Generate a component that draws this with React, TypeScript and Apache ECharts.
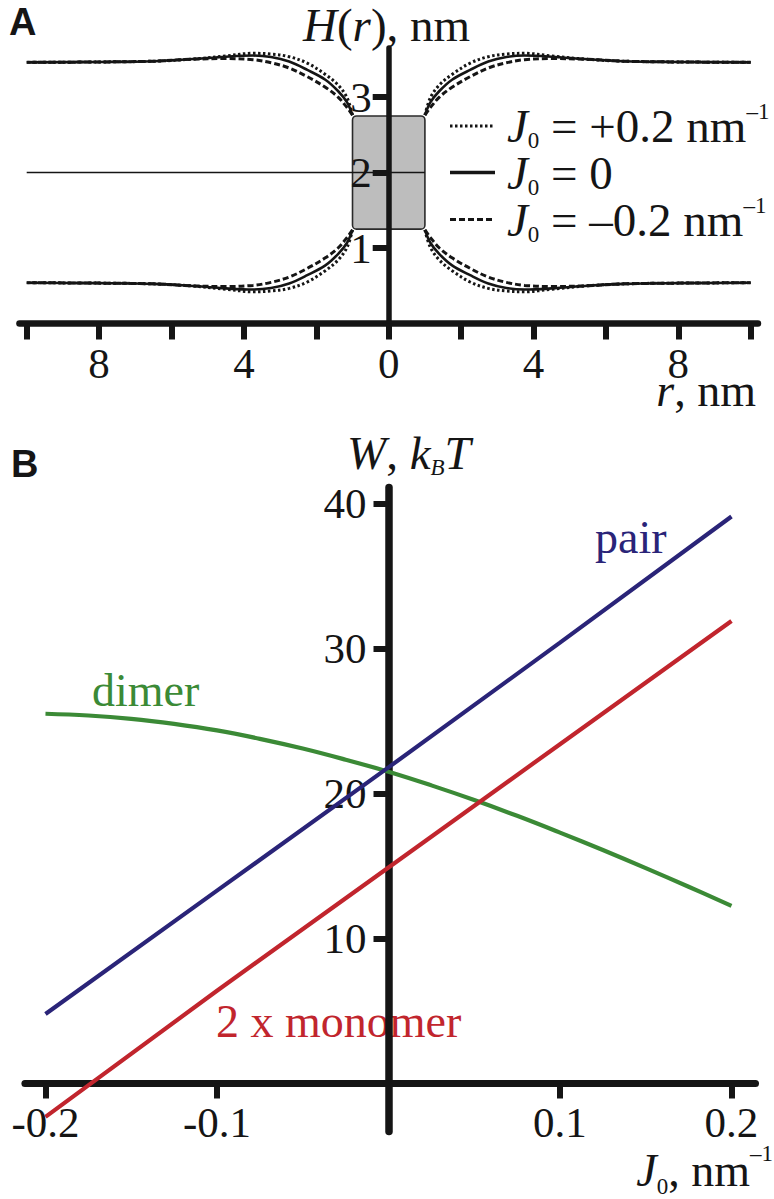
import React, { useEffect, useRef } from "react";
import * as echarts from "echarts";

// ---------- Panel A data ----------
const rGrid = [1, 1.15, 1.4, 1.75, 2.25, 2.75, 3.25, 3.75, 4.5, 5.5, 6.5, 8, 10];
const upperPlus = [2.76, 2.99, 3.16, 3.3, 3.45, 3.535, 3.57, 3.58, 3.545, 3.5, 3.475, 3.465, 3.46];
const upperZero = [2.76, 2.93, 3.08, 3.23, 3.36, 3.47, 3.53, 3.55, 3.535, 3.5, 3.475, 3.465, 3.46];
const upperMinus = [2.76, 2.86, 3.0, 3.13, 3.27, 3.385, 3.455, 3.495, 3.51, 3.5, 3.475, 3.465, 3.46];
const lowerPlus = [1.24, 1.01, 0.84, 0.7, 0.55, 0.465, 0.43, 0.42, 0.455, 0.5, 0.525, 0.535, 0.54];
const lowerZero = [1.24, 1.07, 0.92, 0.77, 0.64, 0.53, 0.47, 0.45, 0.465, 0.5, 0.525, 0.535, 0.54];
const lowerMinus = [1.24, 1.14, 1.0, 0.87, 0.73, 0.615, 0.545, 0.505, 0.49, 0.5, 0.525, 0.535, 0.54];
const proteinBox = [-1, 1.25, 1, 2.75];
const midlineR = [-10, 1];
const midlineH = 2;
const rTicks = [-10, -8, -6, -4, -2, 0, 2, 4, 6, 8, 10];
const rLabels = [-8, -4, 0, 4, 8];
const hTicks = [1, 2, 3];

// ---------- Panel B data ----------
const jLine = [-0.2, -0.1, 0, 0.1, 0.2];
const pairW = [4.8, 13.3, 21.8, 30.4, 39.1];
const monomer2W = [-2.3, 6.4, 14.9, 23.4, 31.9];
const jDimer = [-0.2, -0.175, -0.15, -0.125, -0.1, -0.075, -0.05, -0.025, 0, 0.025, 0.05, 0.075, 0.1, 0.125, 0.15, 0.175, 0.2];
const dimerW = [25.5, 25.38, 25.15, 24.8, 24.35, 23.77, 23.1, 22.33, 21.5, 20.56, 19.55, 18.46, 17.3, 16.1, 14.85, 13.57, 12.25];
const jTicks = [-0.2, -0.1, 0.1, 0.2];
const wTicks = [10, 20, 30, 40];

const SERIF = '"Liberation Serif", "Times New Roman", serif';
const SANS = '"Liberation Sans", Arial, sans-serif';
const INK = "#151515";
const NAVY = "#2a2478";
const RED = "#c1252d";
const GREEN = "#3b8a36";

// pixel geometry of the two plot frames
const A_LEFT = 19.46, A_TOP = 48, A_W = 738.5, A_H = 275.5, A_X0 = 388.7;
const B_LEFT = 24.9, B_TOP = 487.5, B_W = 730.6, B_H = 643.9, B_X0 = 388.5, B_Y0 = 1083.5;

function richSet(fs: number, lh: number, subLh: number, supLh: number, color: string) {
  return {
    n: { fontFamily: SERIF, fontSize: fs, lineHeight: lh, verticalAlign: "middle", fill: color },
    i: { fontFamily: SERIF, fontStyle: "italic", fontSize: fs, lineHeight: lh, verticalAlign: "middle", fill: color },
    sub: { fontFamily: SERIF, fontSize: 23, lineHeight: subLh, verticalAlign: "bottom", fill: color },
    isub: { fontFamily: SERIF, fontStyle: "italic", fontSize: 23, lineHeight: subLh, verticalAlign: "bottom", fill: color },
    sup: { fontFamily: SERIF, fontSize: 23, lineHeight: supLh, verticalAlign: "top", fill: color },
  };
}

function richText(text: string, x: number, y: number, rich: any, align = "left") {
  return {
    type: "text",
    x,
    y,
    silent: true,
    style: {
      text,
      rich,
      fontFamily: SERIF,
      fontSize: 46,
      fill: INK,
      align,
      verticalAlign: "middle",
      textAlign: align,
      textVerticalAlign: "middle",
    },
  };
}

function plainText(text: string, x: number, y: number, color: string, fs = 46, family = SERIF, weight = "normal") {
  return {
    type: "text",
    x,
    y,
    silent: true,
    style: {
      text,
      fontFamily: family,
      fontSize: fs,
      fontWeight: weight,
      fill: color,
      align: "left",
      verticalAlign: "middle",
      textAlign: "left",
      textVerticalAlign: "middle",
    },
  };
}

function curve(values: number[], mirror: boolean, dash: any, width: number) {
  return {
    type: "line",
    xAxisIndex: 0,
    yAxisIndex: 0,
    data: rGrid.map((r, i) => [mirror ? -r : r, values[i]]),
    showSymbol: false,
    symbol: "none",
    smooth: 0.35,
    silent: true,
    z: 3,
    lineStyle: { color: INK, width, type: dash },
  };
}

export default function App() {
  const ref = useRef<HTMLDivElement>(null);
  useEffect(() => {
    if (!ref.current) return;
    const chart = echarts.init(ref.current, null, { renderer: "svg" });
    const axisLabelBase = { fontFamily: SERIF, fontSize: 43, color: INK };
    const curveSeries: any[] = [];
    const styles: [number[], number[], any, number][] = [
      [upperPlus, lowerPlus, [2.5, 2.5], 3],
      [upperZero, lowerZero, "solid", 2.6],
      [upperMinus, lowerMinus, [6, 3], 3],
    ];
    styles.forEach(([u, l, d, w]) => {
      curveSeries.push(curve(u, false, d, w), curve(u, true, d, w), curve(l, false, d, w), curve(l, true, d, w));
    });

    const legendRich = richSet(47, 52, 22, 32, INK);
    const option: any = {
      animation: false,
      backgroundColor: "#ffffff",
      grid: [
        { left: A_LEFT, top: A_TOP, width: A_W, height: A_H, containLabel: false, outerBoundsMode: "none" },
        { left: B_LEFT, top: B_TOP, width: B_W, height: B_H, containLabel: false, outerBoundsMode: "none" },
      ],
      xAxis: [
        {
          gridIndex: 0,
          type: "value",
          position: "bottom",
          min: -10.2,
          max: 10.2,
          z: 5,
          axisLine: { onZero: false, lineStyle: { color: INK, width: 6.5 } },
          axisTick: { show: true, customValues: rTicks, length: 16, lineStyle: { color: INK, width: 6 } },
          axisLabel: { ...axisLabelBase, customValues: rLabels, margin: 18, formatter: (v: number) => String(Math.abs(v)) },
          splitLine: { show: false },
        },
        {
          gridIndex: 1,
          type: "value",
          position: "bottom",
          offset: -(B_TOP + B_H - B_Y0),
          min: -0.212,
          max: 0.214,
          z: 1,
          axisLine: { onZero: false, lineStyle: { color: INK, width: 7 } },
          axisTick: { show: true, customValues: jTicks, length: 15, lineStyle: { color: INK, width: 6 } },
          axisLabel: { ...axisLabelBase, customValues: jTicks, margin: 17, formatter: (v: number) => v.toFixed(1) },
          splitLine: { show: false },
        },
      ],
      yAxis: [
        {
          gridIndex: 0,
          type: "value",
          position: "left",
          offset: -(A_X0 - A_LEFT),
          min: 0,
          max: 3.65,
          z: 5,
          axisLine: { onZero: false, lineStyle: { color: INK, width: 5.5 } },
          axisTick: { show: true, customValues: hTicks, length: 16, lineStyle: { color: INK, width: 6 } },
          axisLabel: { ...axisLabelBase, customValues: hTicks, margin: 17 },
          splitLine: { show: false },
        },
        {
          gridIndex: 1,
          type: "value",
          position: "left",
          offset: -(B_X0 - B_LEFT),
          min: -3.3,
          max: 41.1,
          z: 1,
          axisLine: { onZero: false, lineStyle: { color: INK, width: 7.5 } },
          axisTick: { show: true, customValues: wTicks, length: 15, lineStyle: { color: INK, width: 6 } },
          axisLabel: { ...axisLabelBase, customValues: wTicks, margin: 22 },
          splitLine: { show: false },
        },
      ],
      series: [
        {
          type: "custom",
          xAxisIndex: 0,
          yAxisIndex: 0,
          z: 1,
          silent: true,
          data: [proteinBox],
          encode: { x: [0, 2], y: [1, 3] },
          renderItem: (_p: any, api: any) => {
            const p1 = api.coord([api.value(0), api.value(3)]);
            const p2 = api.coord([api.value(2), api.value(1)]);
            return {
              type: "rect",
              shape: { x: p1[0], y: p1[1], width: p2[0] - p1[0], height: p2[1] - p1[1], r: 4 },
              style: { fill: "#bdbdbd", stroke: "#2a2a2a", lineWidth: 1.6 },
            };
          },
        },
        {
          type: "line",
          xAxisIndex: 0,
          yAxisIndex: 0,
          data: midlineR.map((r) => [r, midlineH]),
          symbol: "none",
          silent: true,
          z: 2,
          lineStyle: { color: INK, width: 1.6 },
        },
        ...curveSeries,
        {
          type: "line",
          xAxisIndex: 1,
          yAxisIndex: 1,
          data: jDimer.map((j, i) => [j, dimerW[i]]),
          symbol: "none",
          smooth: 0.4,
          silent: true,
          lineStyle: { color: GREEN, width: 4.2 },
        },
        {
          type: "line",
          xAxisIndex: 1,
          yAxisIndex: 1,
          data: jLine.map((j, i) => [j, monomer2W[i]]),
          symbol: "none",
          silent: true,
          lineStyle: { color: RED, width: 4.2 },
        },
        {
          type: "line",
          xAxisIndex: 1,
          yAxisIndex: 1,
          data: jLine.map((j, i) => [j, pairW[i]]),
          symbol: "none",
          silent: true,
          lineStyle: { color: NAVY, width: 4.2 },
        },
      ],
      graphic: [
        plainText("A", 9, 22, INK, 38, SANS, "bold"),
        plainText("B", 11, 464, INK, 38, SANS, "bold"),
        // Panel A axis titles
        richText("{i|H}{n|(}{i|r}{n|), nm}", 303, 25, richSet(47, 40, 22, 32, INK)),
        richText("{i|r}{n|, nm}", 756, 390, richSet(46, 30, 22, 30, INK), "right"),
        // Legend
        { type: "line", silent: true, shape: { x1: 450, y1: 126, x2: 495, y2: 126 }, style: { stroke: INK, lineWidth: 3, lineDash: [2.5, 2.5] } },
        { type: "line", silent: true, shape: { x1: 450, y1: 172.5, x2: 495, y2: 172.5 }, style: { stroke: INK, lineWidth: 3.5 } },
        { type: "line", silent: true, shape: { x1: 450, y1: 219.5, x2: 495, y2: 219.5 }, style: { stroke: INK, lineWidth: 3, lineDash: [6, 3] } },
        richText("{i|J}{sub|0}{n|\u00A0= +0.2 nm}{sup|\u20131}", 507, 125.5, legendRich),
        richText("{i|J}{sub|0}{n|\u00A0= 0}", 507, 172.5, legendRich),
        richText("{i|J}{sub|0}{n|\u00A0= \u20130.2 nm}{sup|\u20131}", 507, 219.5, legendRich),
        // Panel B axis titles
        richText("{i|W}{n|, }{i|k}{isub|B}{i|T}", 347, 453, richSet(47, 52, 32, 32, INK)),
        richText("{i|J}{sub|0}{n|, nm}{sup|\u20131}", 773, 1170, richSet(46, 56, 20, 26, INK), "right"),
        // Panel B series labels
        plainText("pair", 595, 537, NAVY),
        plainText("dimer", 92, 690, GREEN),
        plainText("2 x monomer", 216, 1021, RED),
      ],
    };
    chart.setOption(option);
    return () => chart.dispose();
  }, []);
  return (
    <div
      ref={ref}
      style={{ position: "absolute", left: 0, top: 0, width: 774, height: 1199, background: "#fff" }}
    />
  );
}
